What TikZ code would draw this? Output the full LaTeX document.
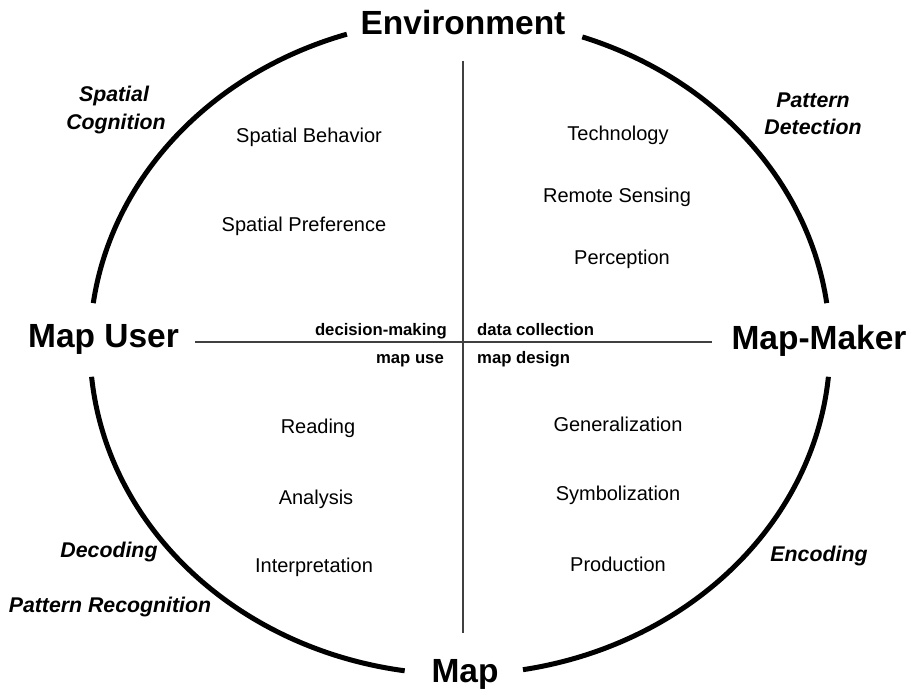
\documentclass[tikz,border=0pt]{standalone}
\usepackage{fontspec}
\setmainfont{Liberation Sans}
\begin{document}
\begin{tikzpicture}[x=1pt,y=1pt,
  big/.style={font=\bfseries\fontsize{33.5}{38}\selectfont, inner sep=0pt, anchor=base},
  item/.style={font=\fontsize{20}{23}\selectfont, inner sep=0pt, anchor=base},
  proc/.style={font=\bfseries\itshape\fontsize{21.3}{28}\selectfont, inner sep=0pt, anchor=base},
  small/.style={font=\bfseries\fontsize{16.7}{20}\selectfont, inner sep=0pt},
  rim/.style={line width=5pt, black},
  axis/.style={line width=2.4pt, black!75}]
\useasboundingbox[fill=white] (0,0) rectangle (913,692);
% ellipse arcs
\coordinate (c) at (460,345.5);
\draw[rim] (c) ++(7.6:370 and 328) arc[start angle=7.6, end angle=70.7, x radius=370, y radius=328];
\draw[rim] (c) ++(107.8:370 and 328) arc[start angle=107.8, end angle=172.4, x radius=370, y radius=328];
\draw[rim] (c) ++(185.3:370 and 328) arc[start angle=185.3, end angle=261.4, x radius=370, y radius=328];
\draw[rim] (c) ++(279.8:370 and 328) arc[start angle=279.8, end angle=354.7, x radius=370, y radius=328];
% axes
\coordinate (vt) at (463,631);
\coordinate (vb) at (463,59);
\coordinate (hl) at (195,350);
\coordinate (hr) at (712,350);
\draw[axis] (vt) -- (vb);
\draw[axis] (hl) -- (hr);
% big labels
\node[big] (env) at (463,657) {Environment};
\node[big] (user) at (103.5,344) {Map User};
\node[big] (maker) at (819,342) {Map-Maker};
\node[big] (map) at (465,9) {Map};
% items
\node[item] (sb) at (309,549) {Spatial Behavior};
\node[item] (sp) at (304,460) {Spatial Preference};
\node[item] (tech) at (618,551) {Technology};
\node[item] (rs) at (617,489) {Remote Sensing};
\node[item] (perc) at (622,427) {Perception};
\node[item] (read) at (318,258) {Reading};
\node[item] (anal) at (316,187) {Analysis};
\node[item] (interp) at (314,119) {Interpretation};
\node[item] (gen) at (618,260) {Generalization};
\node[item] (sym) at (618,191) {Symbolization};
\node[item] (prod) at (618,120) {Production};
% processes
\node[proc] (sc1) at (114,590) {Spatial};
\node[proc] (sc2) at (116,562) {Cognition};
\node[proc] (pd1) at (813,584) {Pattern};
\node[proc] (pd2) at (813,557) {Detection};
\node[proc] (dec) at (109,134) {Decoding};
\node[proc] (pr) at (110,79) {Pattern Recognition};
\node[proc] (enc) at (819,130) {Encoding};
% center labels
\node[small, anchor=base east] (dm) at (447,356) {decision-making};
\node[small, anchor=base west] (dc) at (477,356) {data collection};
\node[small, anchor=base east] (mu) at (444,328) {map use};
\node[small, anchor=base west] (md) at (477,328) {map design};
\end{tikzpicture}
\end{document}
